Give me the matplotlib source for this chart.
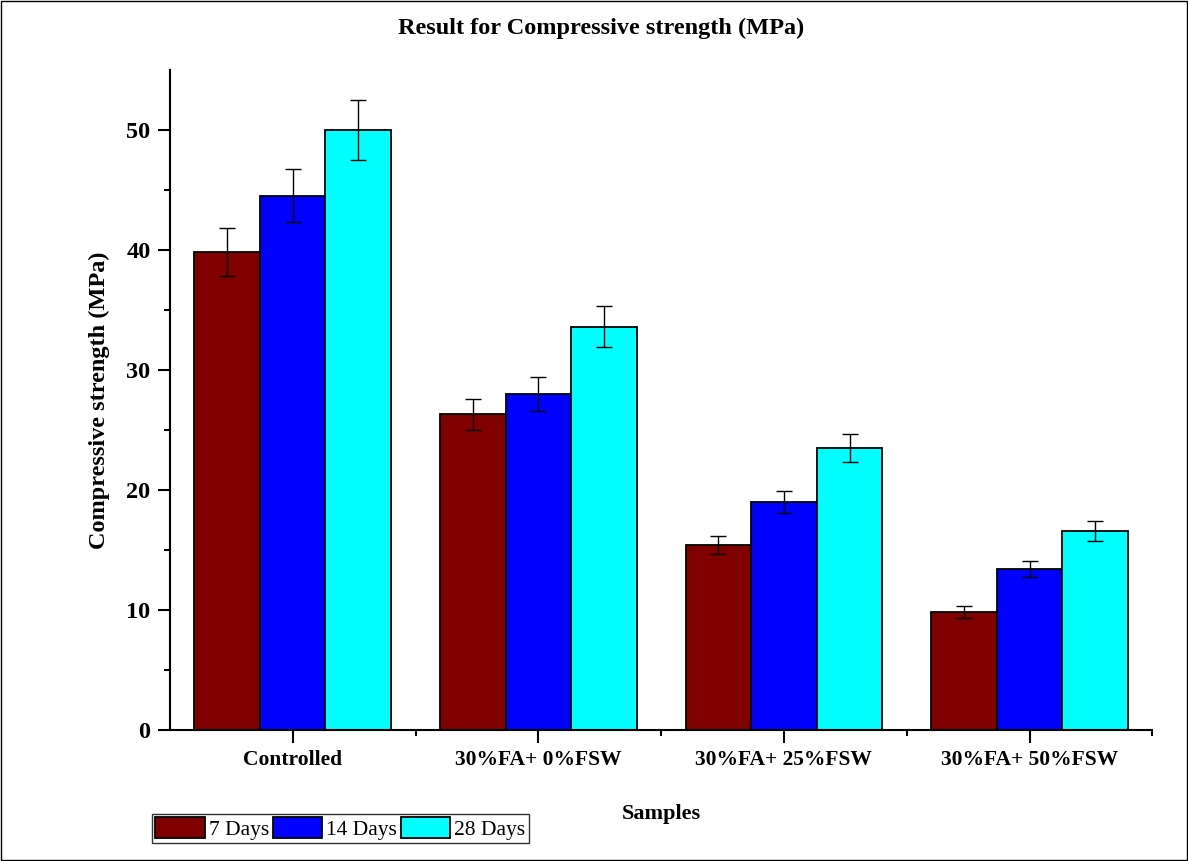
import numpy as np
from matplotlib import pyplot as plt
from matplotlib.patches import Rectangle

plt.rcParams['font.family'] = ['Liberation Serif', 'DejaVu Serif']

samples = ["Controlled", "30%FA+ 0%FSW", "30%FA+ 25%FSW", "30%FA+ 50%FSW"]
series = ["7 Days", "14 Days", "28 Days"]
days7 = [39.8, 26.3, 15.4, 9.85]
days14 = [44.5, 28.0, 19.0, 13.4]
days28 = [50.0, 33.6, 23.5, 16.6]
err7 = [2.0, 1.3, 0.77, 0.5]
err14 = [2.2, 1.4, 0.95, 0.67]
err28 = [2.5, 1.7, 1.18, 0.83]
colors = ["#800000", "#0000FF", "#00FFFF"]

fig = plt.figure(figsize=(11.88, 8.61), dpi=100)
ax = fig.add_axes([0.143, 0.152, 0.827, 0.767])

x = np.arange(1, len(samples) + 1)
w = 0.267
vals = [days7, days14, days28]
errs = [err7, err14, err28]
handles = []
for i in range(3):
    b = ax.bar(x + (i - 1) * w, vals[i], width=w, color=colors[i],
               edgecolor="black", linewidth=1.3, label=series[i], zorder=2)
    ax.errorbar(x + (i - 1) * w, vals[i], yerr=errs[i], fmt="none",
                ecolor="black", elinewidth=1.0, capsize=6, capthick=1.0, zorder=3)
    handles.append(b)

ax.set_xlim(0.5, 4.5)
ax.set_ylim(0, 55)
ax.set_yticks([0, 10, 20, 30, 40, 50])
ax.set_yticks(np.arange(5, 55, 10), minor=True)
ax.set_xticks(x)
ax.set_xticks([1.5, 2.5, 3.5, 4.5], minor=True)
ax.set_xticklabels(samples, fontsize=15.5, fontweight="bold")
for lab in ax.get_yticklabels():
    lab.set_fontsize(17.5)
    lab.set_fontweight("bold")
ax.tick_params(which="major", direction="out", length=9, width=1.5, pad=5)
ax.tick_params(which="minor", direction="out", length=4.5, width=1.5)
for s in ["top", "right"]:
    ax.spines[s].set_visible(False)
for s in ["left", "bottom"]:
    ax.spines[s].set_linewidth(1.5)

ax.set_ylabel("Compressive strength (MPa)", fontsize=17.5, fontweight="bold", labelpad=12)
ax.set_xlabel("Samples", fontsize=16, fontweight="bold", labelpad=25)
fig.text(0.506, 0.967, "Result for Compressive strength (MPa)", fontsize=17.5,
         fontweight="bold", ha="center", va="center")

leg = fig.legend(handles=handles, labels=series, loc="lower left",
                 bbox_to_anchor=(0.128, 0.021), ncol=3, fontsize=15.5,
                 frameon=True, fancybox=False, edgecolor="black",
                 handlelength=2.3, handleheight=1.1, handletextpad=0.2,
                 columnspacing=0.15, borderpad=0.15, borderaxespad=0)
leg.get_frame().set_linewidth(1.0)

fig.patches.append(Rectangle((0.001, 0.001), 0.998, 0.998, transform=fig.transFigure,
                             fill=False, edgecolor="black", linewidth=1.0))

fig.savefig("out.png", dpi=100)
